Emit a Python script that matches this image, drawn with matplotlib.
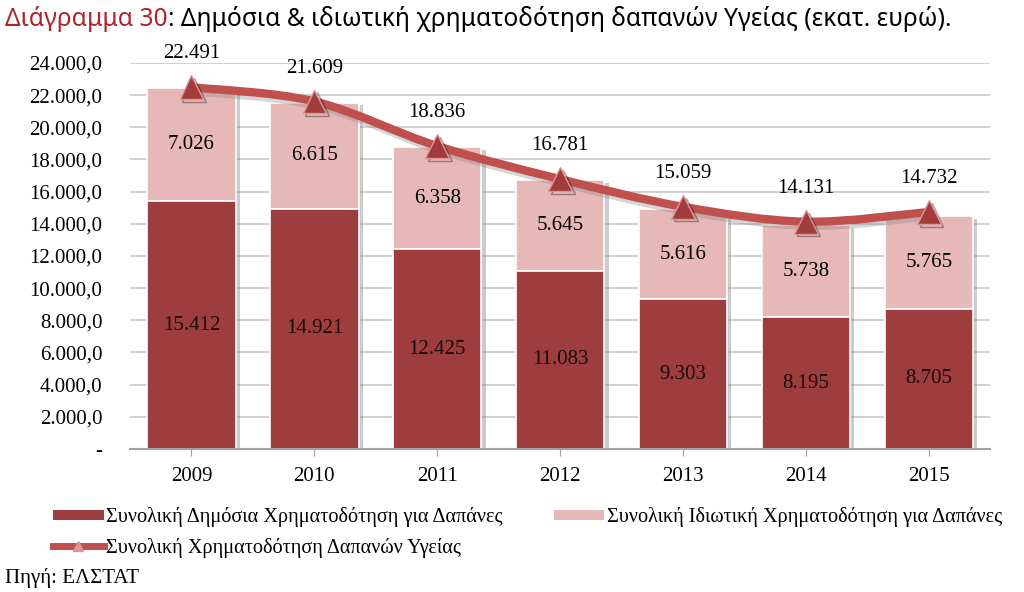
import matplotlib.pyplot as plt
import matplotlib.patheffects as pe
from matplotlib.path import Path
from matplotlib.patches import PathPatch, Patch
from matplotlib.lines import Line2D
import numpy as np

years = ["2009", "2010", "2011", "2012", "2013", "2014", "2015"]
public = [15412, 14921, 12425, 11083, 9303, 8195, 8705]
private = [7026, 6615, 6358, 5645, 5616, 5738, 5765]
total = [22491, 21609, 18836, 16781, 15059, 14131, 14732]
yticks = [0, 2000, 4000, 6000, 8000, 10000, 12000, 14000, 16000, 18000, 20000, 22000, 24000]

DARK = "#9e3d3d"
PINK = "#e6b9b8"
LINE = "#c0504d"
MARK = "#a23b3b"
SERIF = "Liberation Serif"


def fmt(v):
    return f"{v:,}".replace(",", ".")


def tick_fmt(v):
    if v == 0:
        return "-"
    return f"{v:,.1f}".replace(",", "X").replace(".", ",").replace("X", ".")


fig = plt.figure(figsize=(10.24, 5.92), dpi=100)
ax = fig.add_axes([0.127, 0.2416, 0.840, 0.652])

x = np.arange(len(years))
shadow = [pe.SimplePatchShadow(offset=(3, -2), shadow_rgbFace="#8c8c8c", alpha=0.45), pe.Normal()]
b2 = ax.bar(x, private, width=0.72, bottom=public, color=PINK, edgecolor="white", linewidth=1.2, zorder=2)
b1 = ax.bar(x, public, width=0.72, color=DARK, edgecolor="white", linewidth=1.2, zorder=2.5)
for b in list(b1) + list(b2):
    b.set_path_effects(shadow)

# smoothed total line (Excel-style bezier through the points)
pts = np.column_stack([x, total]).astype(float)
verts = [tuple(pts[0])]
codes = [Path.MOVETO]
n = len(pts)
for i in range(n - 1):
    p0 = pts[i - 1] if i > 0 else pts[i]
    p1 = pts[i]
    p2 = pts[i + 1]
    p3 = pts[i + 2] if i + 2 < n else pts[i + 1]
    c1 = p1 + (p2 - p0) / 6.0
    c2 = p2 - (p3 - p1) / 6.0
    verts += [tuple(c1), tuple(c2), tuple(p2)]
    codes += [Path.CURVE4] * 3
curve = PathPatch(Path(verts, codes), facecolor="none", edgecolor=LINE, linewidth=6,
                  capstyle="round", zorder=3)
curve.set_path_effects([pe.SimpleLineShadow(offset=(2, -3), shadow_color="#888888", alpha=0.35), pe.Normal()])
ax.add_patch(curve)
ax.plot(x, total, linestyle="none", marker="^", markersize=17, color=MARK,
        markeredgecolor="#d99694", markeredgewidth=1, zorder=4,
        path_effects=[pe.SimpleLineShadow(offset=(2, -2), alpha=0.35), pe.Normal()])

# data labels
for i in range(len(years)):
    ax.text(x[i], public[i] / 2, fmt(public[i]), ha="center", va="center",
            fontsize=15, family=SERIF, color="#1a0a0a", zorder=5)
    ax.text(x[i], public[i] + private[i] / 2, fmt(private[i]), ha="center", va="center",
            fontsize=15, family=SERIF, color="black", zorder=5)
    ax.annotate(fmt(total[i]), (x[i], total[i]), xytext=(0, 24), textcoords="offset points",
                ha="center", va="center", fontsize=15, family=SERIF, color="black", zorder=5)

ax.set_xlim(-0.5, len(years) - 0.5)
ax.set_ylim(0, 24000)
ax.set_yticks(yticks)
ax.set_yticklabels([tick_fmt(v) for v in yticks], fontsize=15, family=SERIF)
ax.set_xticks(x)
ax.set_xticklabels(years, fontsize=15, family=SERIF)
ax.tick_params(axis="y", length=0, pad=20)
ax.tick_params(axis="x", length=5, color="#a0a0a0", direction="out", pad=8)
ax.yaxis.grid(True, color="#c8c8c8", linewidth=1.2, zorder=0)
ax.set_axisbelow(True)
for s in ["top", "right", "left"]:
    ax.spines[s].set_visible(False)
ax.spines["bottom"].set_color("#a0a0a0")
ax.spines["bottom"].set_linewidth(1.5)

t1 = fig.text(0.005, 0.968, "Διάγραμμα 30", fontsize=17.7, family="Noto Sans",
              color="#b0232a", va="center")
ax.annotate(": Δημόσια & ιδιωτική χρηματοδότηση δαπανών Υγείας (εκατ. ευρώ).",
            xy=(1, 0), xycoords=t1, va="bottom", ha="left",
            fontsize=17.7, family="Noto Sans", color="black", annotation_clip=False)

handles = [
    Patch(facecolor=DARK, edgecolor="none"),
    Line2D([0], [0], color=LINE, linewidth=5, marker="^", markersize=7,
           markerfacecolor="#d99694", markeredgecolor="#d99694"),
    Patch(facecolor=PINK, edgecolor="none"),
]
labels = [
    "Συνολική Δημόσια Χρηματοδότηση για Δαπάνες",
    "Συνολική Χρηματοδότηση Δαπανών Υγείας",
    "Συνολική Ιδιωτική Χρηματοδότηση για Δαπάνες",
]
fig.legend(handles, labels, ncol=2, loc="lower left", bbox_to_anchor=(0.034, 0.027),
           frameon=False, prop={"family": SERIF, "size": 14.6}, handlelength=2.5,
           handleheight=0.45, handletextpad=0.12, columnspacing=2.5, labelspacing=0.52)

fig.text(0.005, 0.023, "Πηγή: ΕΛΣΤΑΤ", fontsize=15, family=SERIF, color="black", va="center")

fig.savefig("out.png", dpi=100)
